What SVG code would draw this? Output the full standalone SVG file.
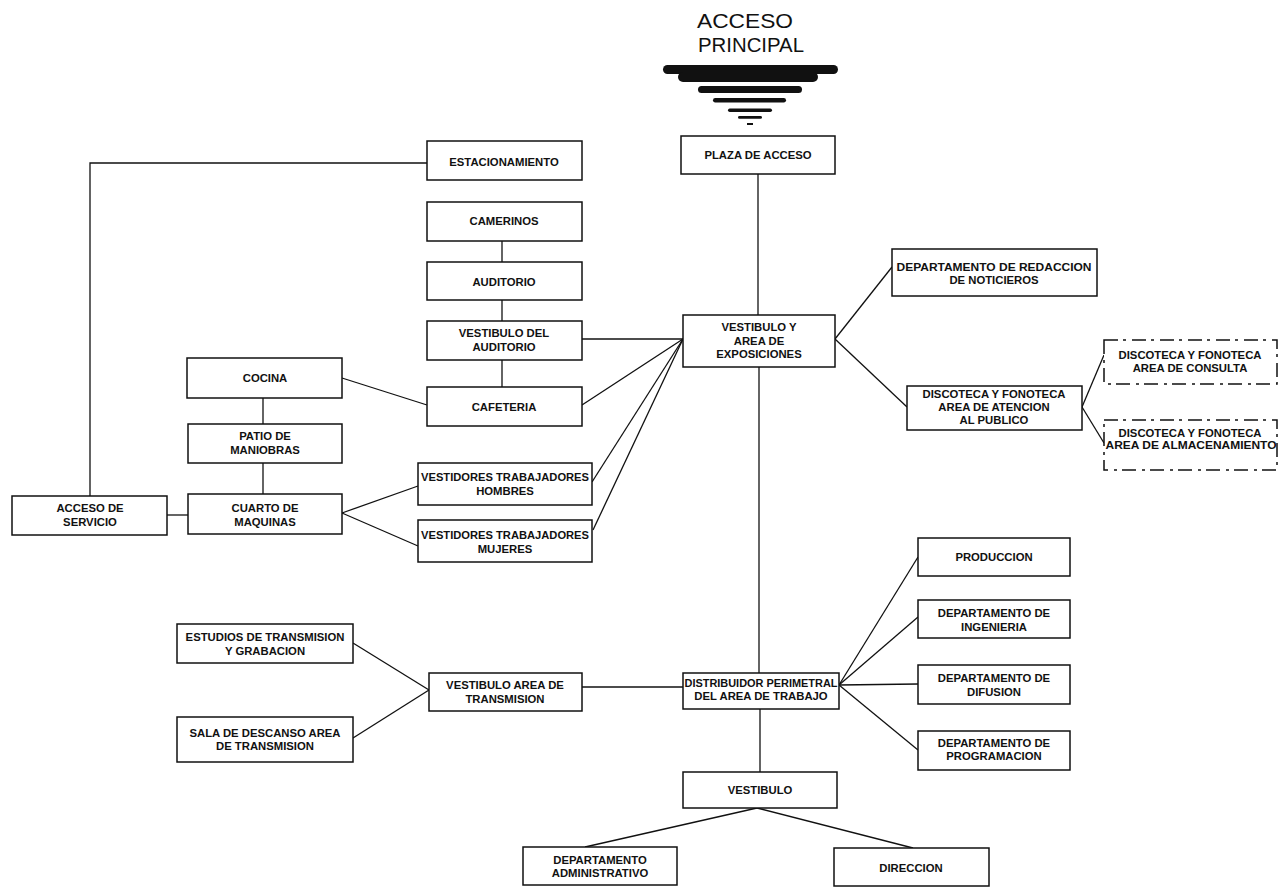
<svg xmlns="http://www.w3.org/2000/svg" width="1278" height="887" viewBox="0 0 1278 887">
<style>
.bg{fill:#ffffff}
.box{fill:#ffffff;stroke:#111;stroke-width:1.5}
.dbox{fill:#ffffff;stroke:#111;stroke-width:1.5;stroke-dasharray:14 5 3 6}
.lbl{font-family:"Liberation Sans",Arial,sans-serif;font-size:11.3px;font-weight:bold;fill:#111;text-anchor:middle}
.title{font-family:"Liberation Sans",Arial,sans-serif;font-size:21px;fill:#111;text-anchor:middle}
.con{fill:none;stroke:#111;stroke-width:1.3}
.bar{fill:#111}
</style>
<rect class="bg" x="0" y="0" width="1278" height="887"/>

<g id="acceso-principal">
<text class="title" x="745" y="28" textLength="96" lengthAdjust="spacingAndGlyphs">ACCESO</text>
<text class="title" x="751" y="52" textLength="106" lengthAdjust="spacingAndGlyphs">PRINCIPAL</text>
<rect class="bar" x="663" y="65" width="175" height="9" rx="4.5"/>
<rect class="bar" x="678" y="72" width="140" height="10" rx="5"/>
<rect class="bar" x="698" y="86" width="104" height="7" rx="3.5"/>
<rect class="bar" x="713" y="98" width="73" height="4.5" rx="2.2"/>
<rect class="bar" x="728" y="108.5" width="44" height="3.5" rx="1.7"/>
<rect class="bar" x="738" y="116" width="24" height="2.8" rx="1.4"/>
<rect class="bar" x="747" y="123" width="6" height="2"/>
</g>

<g id="connectors">
<line class="con" x1="758" y1="174" x2="758" y2="315"/>
<line class="con" x1="759" y1="367" x2="759" y2="673"/>
<line class="con" x1="760" y1="709" x2="760" y2="772"/>
<line class="con" x1="757" y1="808" x2="585" y2="847"/>
<line class="con" x1="757" y1="808" x2="913" y2="848"/>
<polyline class="con" points="427,163 90,163 90,496"/>
<line class="con" x1="167" y1="515" x2="188" y2="515"/>
<line class="con" x1="263" y1="398" x2="263" y2="424"/>
<line class="con" x1="263" y1="463" x2="263" y2="494"/>
<line class="con" x1="342" y1="378" x2="427" y2="405"/>
<line class="con" x1="502" y1="241" x2="502" y2="262"/>
<line class="con" x1="502" y1="300" x2="502" y2="321"/>
<line class="con" x1="502" y1="360" x2="502" y2="387"/>
<line class="con" x1="582" y1="339" x2="683" y2="339"/>
<line class="con" x1="582" y1="405" x2="683" y2="339"/>
<line class="con" x1="592" y1="482" x2="683" y2="339"/>
<line class="con" x1="593" y1="530" x2="683" y2="339"/>
<line class="con" x1="342" y1="513" x2="418" y2="486"/>
<line class="con" x1="342" y1="513" x2="418" y2="546"/>
<line class="con" x1="835" y1="339" x2="892" y2="267"/>
<line class="con" x1="835" y1="339" x2="907" y2="407"/>
<line class="con" x1="1082" y1="407" x2="1104" y2="355"/>
<line class="con" x1="1082" y1="407" x2="1104" y2="443"/>
<line class="con" x1="839" y1="685" x2="918" y2="557"/>
<line class="con" x1="839" y1="685" x2="918" y2="617"/>
<line class="con" x1="839" y1="685" x2="918" y2="684"/>
<line class="con" x1="839" y1="685" x2="918" y2="750"/>
<line class="con" x1="582" y1="687" x2="683" y2="687"/>
<line class="con" x1="353" y1="643" x2="429" y2="690"/>
<line class="con" x1="353" y1="738" x2="429" y2="690"/>
</g>

<g id="plaza-de-acceso"><rect class="box" x="681" y="136" width="154" height="38"/><text class="lbl" x="758" y="159">PLAZA DE ACCESO</text></g>
<g id="estacionamiento"><rect class="box" x="427" y="141" width="155" height="39"/><text class="lbl" x="504" y="166">ESTACIONAMIENTO</text></g>
<g id="camerinos"><rect class="box" x="427" y="202" width="155" height="39"/><text class="lbl" x="504" y="225">CAMERINOS</text></g>
<g id="auditorio"><rect class="box" x="427" y="262" width="155" height="38"/><text class="lbl" x="504" y="286">AUDITORIO</text></g>
<g id="vestibulo-auditorio"><rect class="box" x="427" y="321" width="155" height="39"/><text class="lbl" x="504" y="337">VESTIBULO DEL</text><text class="lbl" x="504" y="351">AUDITORIO</text></g>
<g id="cafeteria"><rect class="box" x="427" y="387" width="155" height="39"/><text class="lbl" x="504" y="411">CAFETERIA</text></g>
<g id="vestibulo-exposiciones"><rect class="box" x="683" y="315" width="152" height="52"/><text class="lbl" x="759" y="331">VESTIBULO Y</text><text class="lbl" x="759" y="345">AREA DE</text><text class="lbl" x="759" y="358">EXPOSICIONES</text></g>
<g id="cocina"><rect class="box" x="187" y="358" width="155" height="40"/><text class="lbl" x="265" y="382">COCINA</text></g>
<g id="patio-maniobras"><rect class="box" x="188" y="424" width="154" height="39"/><text class="lbl" x="265" y="440">PATIO DE</text><text class="lbl" x="265" y="454">MANIOBRAS</text></g>
<g id="cuarto-maquinas"><rect class="box" x="188" y="494" width="154" height="40"/><text class="lbl" x="265" y="512">CUARTO DE</text><text class="lbl" x="265" y="526">MAQUINAS</text></g>
<g id="acceso-servicio"><rect class="box" x="12" y="496" width="155" height="39"/><text class="lbl" x="90" y="512">ACCESO DE</text><text class="lbl" x="90" y="526">SERVICIO</text></g>
<g id="vestidores-hombres"><rect class="box" x="418" y="463" width="174" height="42"/><text class="lbl" x="505" y="481" textLength="168" lengthAdjust="spacingAndGlyphs">VESTIDORES TRABAJADORES</text><text class="lbl" x="505" y="495">HOMBRES</text></g>
<g id="vestidores-mujeres"><rect class="box" x="418" y="520" width="174" height="42"/><text class="lbl" x="505" y="539" textLength="168" lengthAdjust="spacingAndGlyphs">VESTIDORES TRABAJADORES</text><text class="lbl" x="505" y="553">MUJERES</text></g>
<g id="redaccion-noticieros"><rect class="box" x="892" y="249" width="205" height="47"/><text class="lbl" x="994" y="271" textLength="195" lengthAdjust="spacingAndGlyphs">DEPARTAMENTO DE REDACCION</text><text class="lbl" x="994" y="284">DE NOTICIEROS</text></g>
<g id="discoteca-atencion"><rect class="box" x="907" y="386" width="175" height="44"/><text class="lbl" x="994" y="398">DISCOTECA Y FONOTECA</text><text class="lbl" x="994" y="411">AREA DE ATENCION</text><text class="lbl" x="994" y="424">AL PUBLICO</text></g>
<g id="discoteca-consulta"><rect class="dbox" x="1104" y="340" width="173" height="44"/><text class="lbl" x="1190" y="359">DISCOTECA Y FONOTECA</text><text class="lbl" x="1190" y="372">AREA DE CONSULTA</text></g>
<g id="discoteca-almacenamiento"><rect class="dbox" x="1104" y="420" width="173" height="50"/><text class="lbl" x="1190" y="437">DISCOTECA Y FONOTECA</text><text class="lbl" x="1191" y="449" textLength="171" lengthAdjust="spacingAndGlyphs">AREA DE ALMACENAMIENTO</text></g>
<g id="estudios-transmision"><rect class="box" x="177" y="624" width="176" height="39"/><text class="lbl" x="265" y="641">ESTUDIOS DE TRANSMISION</text><text class="lbl" x="265" y="655">Y GRABACION</text></g>
<g id="sala-descanso"><rect class="box" x="177" y="717" width="176" height="45"/><text class="lbl" x="265" y="737">SALA DE DESCANSO AREA</text><text class="lbl" x="265" y="750">DE TRANSMISION</text></g>
<g id="vestibulo-transmision"><rect class="box" x="429" y="673" width="153" height="38"/><text class="lbl" x="505" y="689">VESTIBULO AREA DE</text><text class="lbl" x="505" y="703">TRANSMISION</text></g>
<g id="distribuidor-perimetral"><rect class="box" x="683" y="673" width="156" height="36"/><text class="lbl" x="761" y="687" textLength="153" lengthAdjust="spacingAndGlyphs">DISTRIBUIDOR PERIMETRAL</text><text class="lbl" x="761" y="700">DEL AREA DE TRABAJO</text></g>
<g id="produccion"><rect class="box" x="918" y="538" width="152" height="38"/><text class="lbl" x="994" y="561">PRODUCCION</text></g>
<g id="ingenieria"><rect class="box" x="918" y="600" width="152" height="38"/><text class="lbl" x="994" y="617">DEPARTAMENTO DE</text><text class="lbl" x="994" y="631">INGENIERIA</text></g>
<g id="difusion"><rect class="box" x="918" y="665" width="152" height="39"/><text class="lbl" x="994" y="682">DEPARTAMENTO DE</text><text class="lbl" x="994" y="696">DIFUSION</text></g>
<g id="programacion"><rect class="box" x="918" y="731" width="152" height="39"/><text class="lbl" x="994" y="747">DEPARTAMENTO DE</text><text class="lbl" x="994" y="760">PROGRAMACION</text></g>
<g id="vestibulo"><rect class="box" x="683" y="772" width="154" height="36"/><text class="lbl" x="760" y="794">VESTIBULO</text></g>
<g id="departamento-administrativo"><rect class="box" x="523" y="847" width="154" height="38"/><text class="lbl" x="600" y="864">DEPARTAMENTO</text><text class="lbl" x="600" y="877">ADMINISTRATIVO</text></g>
<g id="direccion"><rect class="box" x="834" y="848" width="155" height="38"/><text class="lbl" x="911" y="872">DIRECCION</text></g>
</svg>
